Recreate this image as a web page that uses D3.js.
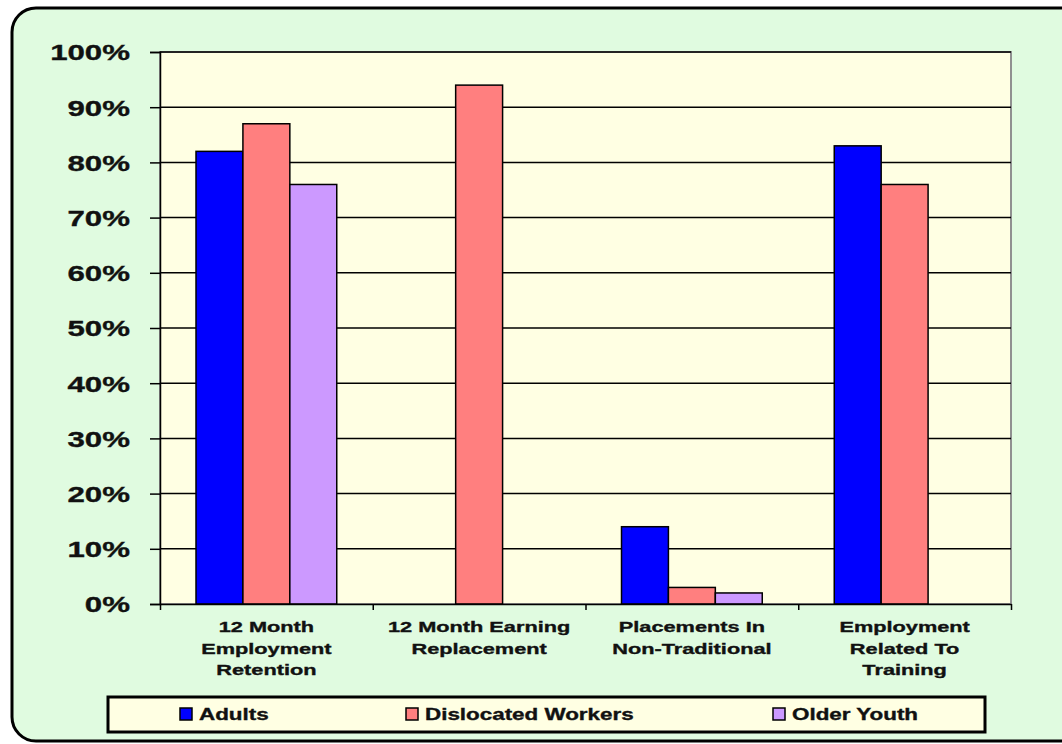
<!DOCTYPE html>
<html>
<head>
<meta charset="utf-8">
<script src="https://cdn.jsdelivr.net/npm/d3@7"></script>
<style>
  html, body { margin: 0; padding: 0; background: #ffffff; }
  svg text { font-family: "Liberation Sans", Arial, sans-serif; font-weight: bold; fill: #111; stroke: #111; stroke-width: 0.35px; }
</style>
</head>
<body>
<svg id="chart" width="1062" height="744"></svg>
<script>
const categories = [
  ["12 Month", "Employment", "Retention"],
  ["12 Month Earning", "Replacement"],
  ["Placements In", "Non-Traditional"],
  ["Employment", "Related To", "Training"]
];
const seriesNames = ["Adults", "Dislocated Workers", "Older Youth"];
const adults = [82, null, 14, 83];
const dislocated = [87, 94, 3, 76];
const olderYouth = [76, null, 2, null];
const yTicks = [0, 10, 20, 30, 40, 50, 60, 70, 80, 90, 100];
const colors = ["#0000ff", "#ff7f7f", "#cc99ff"];

const seriesValues = [adults, dislocated, olderYouth];
const svg = d3.select("#chart");

// outer frame
svg.append("rect").attr("x", 0).attr("y", 0).attr("width", 1062).attr("height", 744).attr("fill", "#ffffff");
svg.append("rect")
  .attr("x", 12).attr("y", 8).attr("width", 1080).attr("height", 733).attr("rx", 24)
  .attr("fill", "#e0fbe0").attr("stroke", "#000").attr("stroke-width", 3);

const plot = { left: 160, right: 1011, top: 52, bottom: 604 };

const x0 = d3.scaleBand().domain(d3.range(categories.length)).range([plot.left, plot.right]).padding(0);
const x1 = d3.scaleBand().domain(d3.range(seriesNames.length)).range([36, x0.bandwidth() - 36]).padding(0);
const y = d3.scaleLinear().domain([0, 100]).range([plot.bottom, plot.top]);

// plot background
svg.append("rect")
  .attr("x", plot.left).attr("y", plot.top)
  .attr("width", plot.right - plot.left).attr("height", plot.bottom - plot.top)
  .attr("fill", "#ffffe3").attr("stroke", "#909090").attr("stroke-width", 2);

// gridlines
svg.append("g").selectAll("line").data(yTicks.filter(d => d > 0)).join("line")
  .attr("x1", plot.left).attr("x2", plot.right)
  .attr("y1", d => y(d)).attr("y2", d => y(d))
  .attr("stroke", "#000").attr("stroke-width", 1.5);

// bars
const groups = svg.append("g").selectAll("g").data(categories).join("g")
  .attr("transform", (d, i) => `translate(${x0(i)},0)`);
groups.selectAll("rect")
  .data((d, i) => seriesValues.map((s, j) => ({ j, v: s[i] })).filter(e => e.v != null))
  .join("rect")
  .attr("x", d => x1(d.j)).attr("width", x1.bandwidth())
  .attr("y", d => y(d.v)).attr("height", d => y(0) - y(d.v))
  .attr("fill", d => colors[d.j]).attr("stroke", "#000").attr("stroke-width", 1.5);

// y axis
const yAxis = d3.axisLeft(y).tickValues(yTicks).tickFormat(d => d + "%").tickSize(10).tickPadding(0);
const yg = svg.append("g").attr("transform", `translate(${plot.left},0)`).call(yAxis);
yg.select(".domain").attr("stroke", "#000").attr("stroke-width", 1.5);
yg.selectAll(".tick line").attr("stroke", "#000").attr("stroke-width", 1.5);
yg.selectAll(".tick text").remove();
yg.selectAll(".tick").append("text")
  .attr("transform", "translate(-30,0) scale(1.42,1)")
  .attr("text-anchor", "end").attr("dy", "0.36em")
  .style("font-size", "22px").text(d => d + "%");

// x axis
const xAxisScale = d3.scaleLinear().domain([0, categories.length]).range([plot.left, plot.right]);
const xg = svg.append("g").attr("transform", `translate(0,${plot.bottom})`)
  .call(d3.axisBottom(xAxisScale).ticks(categories.length).tickFormat("").tickSize(6).tickSizeOuter(0));
xg.select(".domain").attr("stroke", "#000").attr("stroke-width", 1.5);
xg.selectAll(".tick line").attr("stroke", "#000").attr("stroke-width", 1.5);

// category labels
const catLabels = svg.append("g").selectAll("g").data(categories).join("g")
  .attr("transform", (d, i) => `translate(${x0(i) + x0.bandwidth() / 2},0)`);
catLabels.selectAll("text").data(d => d).join("text")
  .attr("transform", (d, k) => `translate(0,${632 + k * 21.5}) scale(1.45,1)`)
  .attr("text-anchor", "middle").style("font-size", "15px").text(d => d);

// legend
const legend = svg.append("g");
legend.append("rect").attr("x", 108).attr("y", 697).attr("width", 877).attr("height", 35)
  .attr("fill", "#ffffe3").attr("stroke", "#000").attr("stroke-width", 3);
const legendX = [180, 406, 773];
const items = legend.selectAll("g.item").data(seriesNames).join("g").attr("class", "item")
  .attr("transform", (d, i) => `translate(${legendX[i]},714)`);
items.append("rect").attr("x", 0).attr("y", -6).attr("width", 12).attr("height", 12)
  .attr("fill", (d, i) => colors[i]).attr("stroke", "#000").attr("stroke-width", 1.5);
items.append("text").attr("transform", "translate(19,6) scale(1.4,1)")
  .style("font-size", "16px").text(d => d);
</script>
</body>
</html>
